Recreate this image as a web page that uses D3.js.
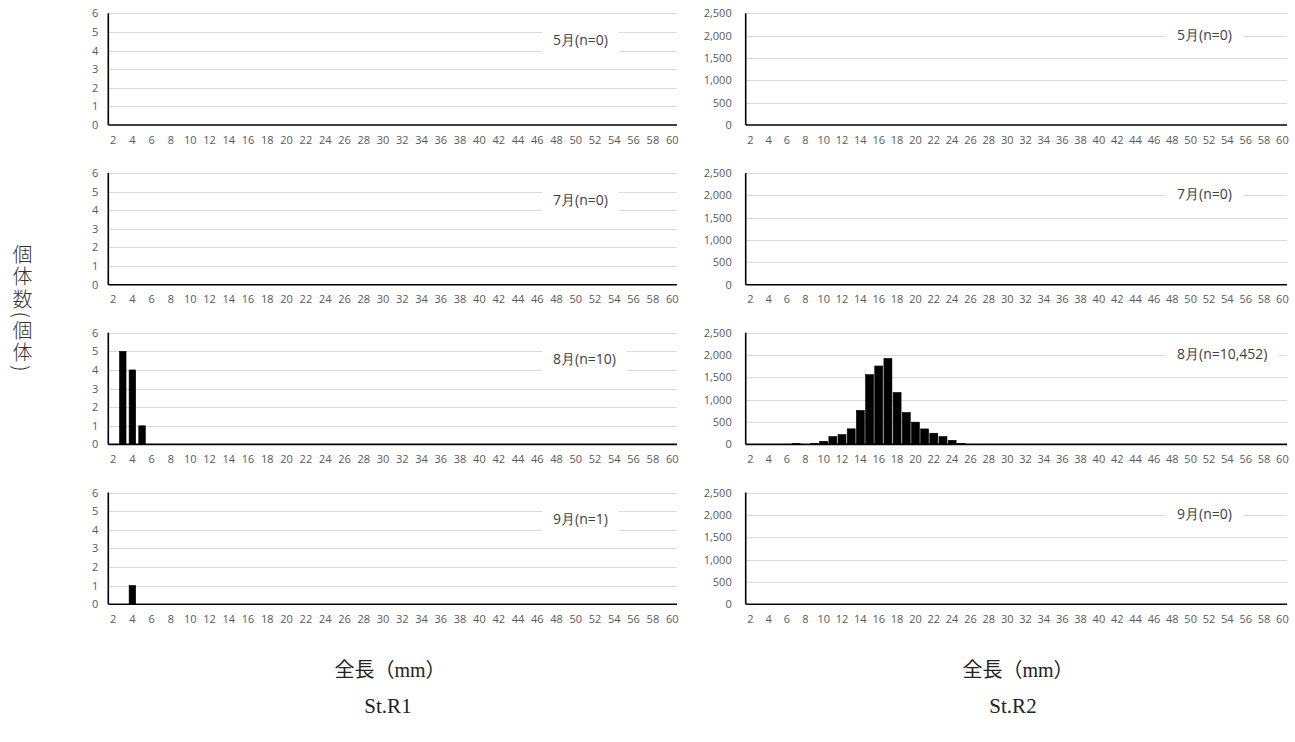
<!DOCTYPE html>
<html>
<head>
<meta charset="utf-8">
<script src="https://cdn.jsdelivr.net/npm/d3@7"></script>
<style>
  body { margin: 0; background: #fff; }
  svg { display: block; }
</style>
</head>
<body>
<div id="viz"></div>
<script>
const width = 1295;
const height = 742;

// length classes (mm) on the x axis
const lengths = d3.range(2, 61);
const months = ['5月', '7月', '8月', '9月'];

// St.R1 counts per month, [length, count]; classes not listed are 0
const r1May = [];
const r1Jul = [];
const r1Aug = [[3, 5], [4, 4], [5, 1]];
const r1Sep = [[4, 1]];
const r1N = ['0', '0', '10', '1'];
const r1Ticks = [0, 1, 2, 3, 4, 5, 6];

// St.R2 counts per month
const r2May = [];
const r2Jul = [];
const r2Aug = [[7, 22], [9, 22], [10, 70], [11, 175], [12, 220], [13, 348], [14, 760],
  [15, 1560], [16, 1755], [17, 1925], [18, 1162], [19, 715], [20, 498], [21, 346],
  [22, 250], [23, 174], [24, 92], [25, 24]];
const r2Sep = [];
const r2N = ['0', '0', '10,452', '0'];
const r2Ticks = [0, 500, 1000, 1500, 2000, 2500];

const panelTops = [13.3, 173, 332.7, 492.5];
const panelH = 111.7;

const svg = d3.select('#viz')
  .append('svg')
    .attr('width', width)
    .attr('height', height);

const tickFont = '"Open Sans", sans-serif';

const drawPanel = (opts) => {
  const top = opts.top;
  const x = d3.scaleBand()
    .domain(lengths)
    .range([opts.x0, opts.x1])
    .paddingInner(opts.pad)
    .paddingOuter(opts.pad / 2);

  const y = d3.scaleLinear()
    .domain([0, d3.max(opts.ticks)])
    .range([top + panelH, top]);

  const g = svg.append('g');

  // gridlines
  g.append('g')
    .selectAll('line')
    .data(opts.ticks.filter(d => d > 0))
    .join('line')
      .attr('x1', opts.x0)
      .attr('x2', opts.x1)
      .attr('y1', d => Math.round(y(d)) + 0.5)
      .attr('y2', d => Math.round(y(d)) + 0.5)
      .attr('stroke', '#d9d9d9')
      .attr('stroke-width', 1);

  // month title with white box
  const title = g.append('text')
    .attr('x', opts.titleX)
    .attr('y', top + opts.titleDy)
    .attr('dominant-baseline', 'middle')
    .attr('font-family', tickFont)
    .attr('font-size', 14)
    .attr('fill', '#404040')
    .text(`${opts.month}(n=${opts.n})`);
  const bb = title.node().getBBox();
  g.insert('rect', 'text')
    .attr('x', bb.x - 11)
    .attr('y', top + opts.boxY0)
    .attr('width', bb.width + 22)
    .attr('height', opts.boxY1 - opts.boxY0)
    .attr('fill', '#fff');

  // bars
  g.append('g')
    .selectAll('rect')
    .data(opts.data)
    .join('rect')
      .attr('x', d => x(d[0]))
      .attr('y', d => y(d[1]))
      .attr('width', x.bandwidth())
      .attr('height', d => y(0) - y(d[1]))
      .attr('fill', '#000')
      .attr('stroke', '#000')
      .attr('stroke-width', 0.6);

  // x axis labels
  const xAxis = g.append('g')
    .attr('transform', `translate(0, ${top + panelH})`)
    .call(d3.axisBottom(x).tickValues(lengths.filter(d => d % 2 === 0)).tickSize(0).tickPadding(11));
  xAxis.select('.domain').remove();
  xAxis.selectAll('text')
    .attr('font-family', tickFont)
    .attr('font-size', 11)
    .attr('fill', '#595959');

  // y axis labels
  const yAxis = g.append('g')
    .attr('transform', `translate(${opts.x0}, 0)`)
    .call(d3.axisLeft(y).tickValues(opts.ticks).tickSize(0).tickPadding(opts.yPad)
      .tickFormat(d3.format(',')));
  yAxis.select('.domain').remove();
  yAxis.selectAll('text')
    .attr('font-family', tickFont)
    .attr('font-size', 11)
    .attr('fill', '#595959');

  // axis lines
  g.append('line')
    .attr('x1', opts.x0).attr('x2', opts.x1)
    .attr('y1', y(0)).attr('y2', y(0))
    .attr('stroke', '#000').attr('stroke-width', 1.6);
  g.append('line')
    .attr('x1', opts.x0).attr('x2', opts.x0)
    .attr('y1', y(d3.max(opts.ticks))).attr('y2', y(0))
    .attr('stroke', '#000').attr('stroke-width', 1.6);
};

const r1Data = [r1May, r1Jul, r1Aug, r1Sep];
const r2Data = [r2May, r2Jul, r2Aug, r2Sep];

months.forEach((m, i) => {
  drawPanel({
    top: panelTops[i], x0: 108.3, x1: 677, pad: 0.32,
    data: r1Data[i], ticks: r1Ticks, yPad: 10, month: m, n: r1N[i],
    titleX: 553, titleDy: 28, boxY0: 11, boxY1: 44
  });
  drawPanel({
    top: panelTops[i], x0: 745.7, x1: 1287, pad: 0.13,
    data: r2Data[i], ticks: r2Ticks, yPad: 14, month: m, n: r2N[i],
    titleX: 1177, titleDy: 22.5, boxY0: 8, boxY1: 38
  });
});

// y axis title (vertical)
svg.append('text')
  .attr('x', 22.5)
  .attr('y', 244)
  .style('writing-mode', 'vertical-rl')
  .style('letter-spacing', '2.5px')
  .attr('font-family', '"Noto Sans CJK JP", sans-serif')
  .attr('font-size', 20)
  .attr('font-weight', 300)
  .attr('fill', '#333')
  .text('個体数(個体)');

// bottom labels
const serif = '"Liberation Serif", "Noto Sans CJK JP", serif';
[[390, 1018], [388, 1013]].forEach((xs, row) => {
  xs.forEach((cx, col) => {
    svg.append('text')
      .attr('x', cx)
      .attr('y', row === 0 ? 672 : 708)
      .attr('text-anchor', 'middle')
      .attr('dominant-baseline', 'middle')
      .attr('font-family', serif)
      .attr('font-size', row === 0 ? 20 : 21)
      .attr('fill', '#222')
      .text(row === 0 ? '全長（mm）' : (col === 0 ? 'St.R1' : 'St.R2'));
  });
});
</script>
</body>
</html>
